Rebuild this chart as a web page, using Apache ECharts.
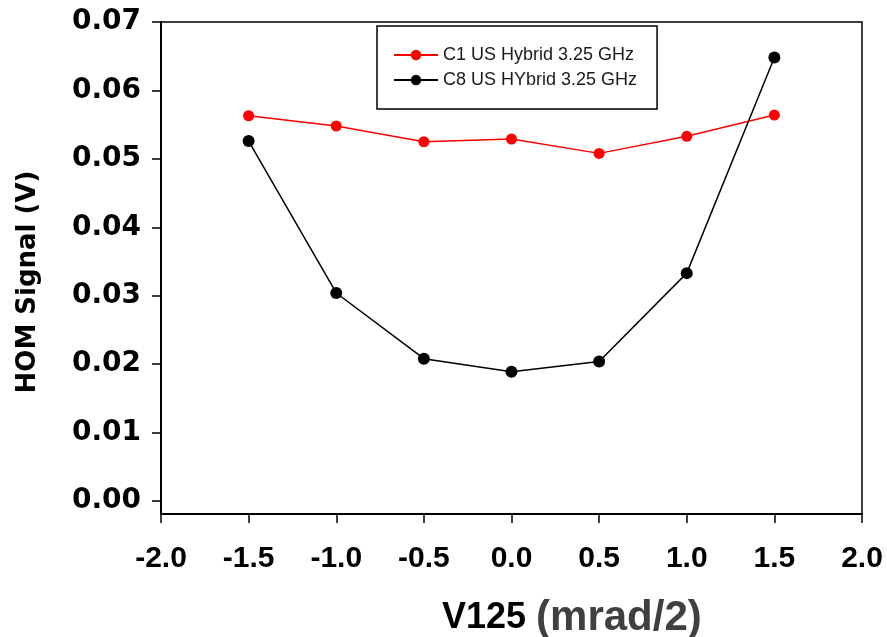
<!DOCTYPE html>
<html>
<head>
<meta charset="utf-8">
<script src="https://cdn.jsdelivr.net/npm/echarts@6/dist/echarts.min.js"></script>
<style>html,body{margin:0;padding:0;background:#fff}#c{width:887px;height:637px}</style>
</head>
<body>
<div id="c"></div>
<script>
var xValues = [-1.5, -1.0, -0.5, 0.0, 0.5, 1.0, 1.5];
var c1Values = [0.0563, 0.0548, 0.0525, 0.0529, 0.0508, 0.0533, 0.0564];
var c8Values = [0.0526, 0.0304, 0.0208, 0.0189, 0.0204, 0.0333, 0.0648];
var yTicks = [0, 0.01, 0.02, 0.03, 0.04, 0.05, 0.06, 0.07];
var seriesNames = ['C1 US Hybrid 3.25 GHz', 'C8 US HYbrid 3.25 GHz'];

function pairs(xs, ys) { return xs.map(function (x, i) { return [x, ys[i]]; }); }

var chart = echarts.init(document.getElementById('c'), null, {renderer: 'canvas'});
chart.setOption({
  animation: false,
  backgroundColor: '#fff',
  grid: {left: 161, right: 25, top: 22, bottom: 123, show: true, borderColor: '#000', borderWidth: 1.5, backgroundColor: 'transparent'},
  title: {
    text: '{a|V125}  {b|(mrad/2)}',
    left: 437, top: 592,
    textStyle: {
      rich: {
        a: {fontFamily: 'Liberation Sans', fontWeight: 'bold', fontSize: 36, color: '#000'},
        b: {fontFamily: 'Liberation Sans', fontWeight: 'bold', fontSize: 42, color: '#404040'}
      }
    }
  },
  legend: {
    left: 377, top: 26, orient: 'vertical',
    padding: [20, 20, 20, 16],
    borderColor: '#000', borderWidth: 1.5, backgroundColor: '#fff',
    itemWidth: 44, itemHeight: 13, itemGap: 7,
    textStyle: {fontFamily: 'Liberation Sans', fontSize: 18, color: '#1a1a1a', lineHeight: 18},
    data: seriesNames
  },
  xAxis: {
    type: 'value', min: -2, max: 2, interval: 0.5,
    axisLine: {onZero: false, lineStyle: {color: '#000', width: 2}},
    axisTick: {show: true, length: 9, inside: false, lineStyle: {color: '#000', width: 1.5}},
    axisLabel: {margin: 30, fontFamily: 'Liberation Sans', fontWeight: 'bold', fontSize: 30, color: '#000',
      formatter: function (v) { return v.toFixed(1); }},
    splitLine: {show: false}
  },
  yAxis: {
    type: 'value', min: -0.0019, max: 0.07,
    name: 'HOM Signal (V)', nameLocation: 'middle', nameRotate: 90, nameGap: 120,
    nameTextStyle: {fontFamily: 'DejaVu Sans', fontWeight: 'bold', fontSize: 26, color: '#000', padding: [0, 28, 0, 0]},
    axisLine: {onZero: false, lineStyle: {color: '#000', width: 2}},
    axisTick: {show: true, length: 9, inside: false, customValues: yTicks, lineStyle: {color: '#000', width: 1.5}},
    axisLabel: {margin: 20, fontFamily: 'DejaVu Sans', fontWeight: 'bold', fontSize: 28, color: '#000',
      customValues: yTicks, formatter: function (v) { return v.toFixed(2); }},
    splitLine: {show: false}
  },
  series: [
    {name: seriesNames[0], type: 'line', data: pairs(xValues, c1Values), symbol: 'circle', symbolSize: 11,
      itemStyle: {color: '#ff0000'}, lineStyle: {color: '#ff0000', width: 1.5}},
    {name: seriesNames[1], type: 'line', data: pairs(xValues, c8Values), symbol: 'circle', symbolSize: 12,
      itemStyle: {color: '#000'}, lineStyle: {color: '#000', width: 1.5}}
  ]
});
</script>
</body>
</html>
